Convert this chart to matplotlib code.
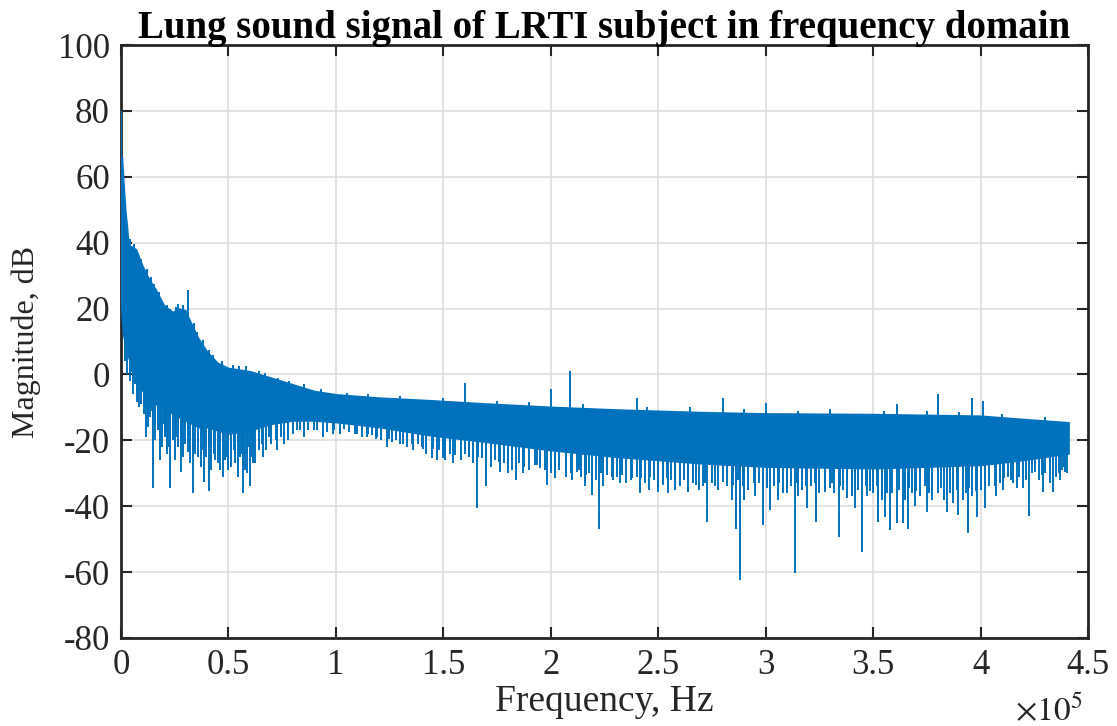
import numpy as np
import matplotlib
matplotlib.use("Agg")
import matplotlib.pyplot as plt

# ---------------- data (frequency in units of 1e5 Hz, magnitude in dB) ----------------
band_freq = [0.0, 0.005, 0.01, 0.02, 0.028, 0.035, 0.045, 0.07, 0.10, 0.13, 0.16, 0.20, 0.24,
             0.27, 0.30, 0.33, 0.36, 0.40, 0.45, 0.50, 0.60, 0.70, 0.80, 0.90, 1.00, 1.20,
             1.44, 1.70, 2.00, 2.30, 2.70, 3.00, 3.50, 4.00, 4.20, 4.41]
band_upper = [62, 66, 60, 50, 45, 39, 39, 38, 33, 29, 26, 21, 19,
              20, 19.5, 15, 11, 7, 3.5, 2, 1, -1, -3, -5, -6, -7,
              -7.8, -8.8, -9.8, -10.6, -11.4, -11.8, -12, -12.5, -13.5, -14.5]
band_lower = [22, 16, 12, 9, 7, 5, 3, -1, -5, -7, -9, -10, -12,
              -13, -14, -15, -16, -16, -17, -18, -17, -15, -14, -14, -14.5, -16,
              -18.5, -20.5, -23, -25, -27, -28, -28.5, -27.5, -26, -24]

# deeper fringe of dips below the solid band
fringe_freq = [0.02, 0.03, 0.055, 0.065, 0.085, 0.105, 0.125, 0.14, 0.16, 0.17, 0.19, 0.20,
               0.215, 0.24, 0.25, 0.265, 0.29, 0.30, 0.32, 0.345, 0.37, 0.395, 0.42, 0.45,
               0.475, 0.485, 0.51, 0.545, 0.555, 0.575, 0.625, 0.64, 0.675, 0.70, 0.745, 0.76,
               0.80, 0.85, 0.87, 0.94, 0.96, 1.02, 1.06, 1.12, 1.17, 1.21, 1.28, 1.33,
               1.38, 1.42, 1.48, 1.53, 1.58, 1.60, 1.64, 1.68, 1.72, 1.74, 1.78, 1.82,
               1.85, 1.90, 1.95, 2.00, 2.04, 2.07, 2.12, 2.14, 2.18, 2.21, 2.26, 2.31,
               2.35, 2.40, 2.44, 2.48, 2.52, 2.56, 2.60, 2.62, 2.66, 2.69, 2.75, 2.78,
               2.82, 2.92, 2.97, 3.04, 3.08, 3.12, 3.17, 3.21, 3.25, 3.30, 3.32, 3.36,
               3.40, 3.43, 3.50, 3.54, 3.59, 3.65, 3.68, 3.72, 3.80, 3.83, 3.86, 3.93,
               3.96, 4.00, 4.04, 4.09, 4.13, 4.15, 4.21, 4.24, 4.27, 4.30, 4.35, 4.38, 4.40]
fringe_value = [4, 0, -6, -3, -10, -12, -16, -11, -20, -17, -22, -15,
                -24, -20, -26, -22, -25, -21, -27, -24, -28, -25, -29, -27,
                -31, -26, -28, -31, -25, -29, -27, -23, -23, -21, -19, -21,
                -18, -19, -17, -19, -17.5, -18, -17.5, -19, -18.5, -20, -20, -22,
                -21, -24, -23, -24, -26, -24, -27, -25.5, -28, -26, -27, -29,
                -27, -29, -28.5, -30, -29, -31, -29.5, -31, -30, -32, -30.5, -31,
                -33, -31, -33, -32, -33.5, -32, -34, -32, -33, -35, -33, -35,
                -34, -35, -33, -34, -36, -34, -35, -34, -36, -34.5, -36, -35,
                -37, -35, -36, -38, -36, -38, -36, -37, -36, -38, -36, -36,
                -37, -35, -34, -33, -31, -33, -32, -30, -32, -30, -31, -29, -30]

# shallower fringe dips between the deeper ones
fringe2_freq = [0.04, 0.075, 0.095, 0.115, 0.15, 0.18, 0.205, 0.228, 0.255, 0.28, 0.31, 0.333,
                0.358, 0.383, 0.408, 0.435, 0.462, 0.495, 0.525, 0.565, 0.59, 0.61, 0.655, 0.69,
                0.72, 0.775, 0.82, 0.90, 0.99, 1.04, 1.09, 1.15, 1.19, 1.245, 1.30, 1.355,
                1.40, 1.45, 1.505, 1.555, 1.62, 1.66, 1.70, 1.76, 1.80, 1.875, 1.925, 1.975,
                2.02, 2.095, 2.13, 2.165, 2.235, 2.285, 2.33, 2.375, 2.42, 2.46, 2.50, 2.54,
                2.58, 2.64, 2.675, 2.72, 2.765, 2.80, 2.85, 2.87, 2.895, 2.945, 3.005, 3.06,
                3.10, 3.145, 3.19, 3.23, 3.275, 3.31, 3.345, 3.38, 3.415, 3.465, 3.485, 3.52,
                3.565, 3.62, 3.665, 3.70, 3.74, 3.76, 3.815, 3.845, 3.89, 3.945, 3.98, 4.02,
                4.065, 4.11, 4.14, 4.18, 4.225, 4.255, 4.285, 4.325, 4.365, 4.39]
fringe2_value = [-2, -8, -9, -10, -14, -16, -19, -17, -19, -21, -19, -22,
                 -21, -23, -22, -24, -22, -25, -23, -24, -22, -25, -21, -19,
                 -20, -18, -17, -17, -17, -16.5, -18, -18, -19, -19.5, -21, -21,
                 -22, -22.5, -23, -24.5, -25, -25, -26, -26.5, -27.5, -28, -27.5, -29,
                 -28.5, -30, -29, -30.5, -30, -31, -30.5, -32, -31.5, -31, -32.5, -31.5,
                 -33, -32.5, -33.5, -33, -34, -32.5, -33.5, -32, -34, -33, -34.5, -33,
                 -34.5, -33, -34, -33, -34.5, -33, -34, -33.5, -35, -34, -35.5, -34,
                 -36, -35, -34.5, -35.5, -34, -36, -34.5, -36, -35, -34.5, -35.5, -33,
                 -34, -31.5, -32, -31, -31, -29.5, -30.5, -29, -30, -28]

# small bumps along the top edge of the band
upjag_freq = [0.04, 0.06, 0.08, 0.095, 0.12, 0.14, 0.155, 0.175, 0.185, 0.215, 0.23, 0.255,
              0.265, 0.29, 0.305, 0.34, 0.355, 0.38, 0.41, 0.43, 0.47, 0.52, 0.55, 0.58,
              0.64, 0.67, 0.73, 0.78, 0.85, 0.93, 1.05, 1.15, 1.30, 1.50, 1.75, 1.90,
              2.15, 2.45, 2.65, 2.90, 3.15, 3.30, 3.55, 3.75, 3.90, 4.10, 4.30]
upjag_value = [41, 39.5, 37, 35, 32, 29.5, 27.5, 25, 23, 21, 20, 20.5,
               21.5, 21, 19, 15.5, 13, 10.5, 7.5, 6, 4, 3, 2.5, 2.5,
               1, 0.5, -1, -2, -3, -4.5, -5.5, -6, -6.5, -7, -8, -8.5,
               -9, -10, -10, -10.5, -11, -10.5, -11, -11, -11.5, -12, -13]

down_freq = [0.047, 0.074, 0.093, 0.116, 0.135, 0.149, 0.181, 0.205, 0.219, 0.228, 0.279, 0.312,
             0.335, 0.358, 0.386, 0.409, 0.437, 0.461, 0.498, 0.530, 0.568, 0.586, 0.600, 0.614,
             0.661, 0.726, 0.777, 0.833, 0.912, 0.987, 1.098, 1.145, 1.187, 1.238, 1.261, 1.312,
             1.359, 1.405, 1.447, 1.470, 1.498, 1.508, 1.545, 1.620, 1.657, 1.698, 1.764, 1.800,
             1.838, 1.870, 1.936, 1.982, 2.020, 2.100, 2.159, 2.192, 2.224, 2.243, 2.290, 2.320,
             2.380, 2.415, 2.457, 2.500, 2.545, 2.578, 2.638, 2.708, 2.727, 2.843, 2.862, 2.880,
             2.900, 2.950, 2.987, 3.020, 3.057, 3.100, 3.136, 3.150, 3.192, 3.234, 3.276, 3.341,
             3.378, 3.416, 3.448, 3.470, 3.523, 3.555, 3.578, 3.611, 3.639, 3.662, 3.695, 3.751,
             3.774, 3.844, 3.872, 3.895, 3.918, 3.941, 3.983, 4.020, 4.072, 4.104, 4.170, 4.197,
             4.225, 4.290, 4.323, 4.337, 4.370, 4.393]
down_value = [0.8, -8.5, -4.7, -19, -13, -34.5, -26, -18, -22, -34.5, -29.5, -23.5,
              -36, -25, -32.5, -35.5, -26, -29, -29, -27, -36, -30, -34, -27,
              -25, -23, -20, -17, -17, -18, -18, -19, -19.5, -22, -20.5, -21,
              -23, -22.5, -25.5, -26, -25.5, -26, -27, -25, -40.5, -34, -29.6, -30,
              -32, -30, -27.5, -33.5, -31.5, -32, -34, -36.6, -47, -34, -32, -33,
              -31.5, -36, -35, -35.6, -36, -35, -35.6, -34, -44.8, -38, -47, -62.4,
              -38, -37, -45.7, -41, -38, -36, -60.3, -37, -40.5, -44.8, -35.6, -49.3,
              -37.5, -40.5, -54, -37, -44.8, -43.3, -47.2, -45.2, -45, -47, -40, -41.7,
              -38, -41.7, -39, -42.7, -38, -48, -43.3, -40.5, -37, -35, -34.5, -34.5,
              -43, -35.6, -33, -35.7, -32, -29.6]

up_freq = [0.0, 0.31, 1.60, 2.00, 2.09, 2.40, 2.80, 3.00, 3.61, 3.80, 3.96, 4.01]
up_value = [80, 25.5, -2.6, -4.4, 1.0, -7.0, -7.0, -8.7, -9.0, -6.0, -7.0, -8.0]

x_ticks = [0, 0.5, 1, 1.5, 2, 2.5, 3, 3.5, 4, 4.5]
x_tick_labels = ["0", "0.5", "1", "1.5", "2", "2.5", "3", "3.5", "4", "4.5"]
y_ticks = [-80, -60, -40, -20, 0, 20, 40, 60, 80, 100]
y_tick_labels = ["-80", "-60", "-40", "-20", "0", "20", "40", "60", "80", "100"]

# ---------------- style ----------------
plt.rcParams["font.family"] = ["Liberation Serif", "DejaVu Serif"]
plt.rcParams["mathtext.fontset"] = "stix"
plt.rcParams["axes.unicode_minus"] = False

BLUE = "#0072BD"
AX_COLOR = "#262626"

fig = plt.figure(figsize=(11.17, 7.26), dpi=100)
ax = fig.add_axes([121 / 1117, 1 - 638 / 726, (1088 - 121) / 1117, (638 - 45) / 726])

# solid band of the spectrum
ax.fill_between(band_freq, band_lower, band_upper, color=BLUE, lw=1.0, zorder=3)

# fringe dips
f_base = np.interp(fringe_freq, band_freq, band_lower) + 2
ax.vlines(fringe_freq, fringe_value, f_base, color=BLUE, lw=1.4, zorder=3)
f2_base = np.interp(fringe2_freq, band_freq, band_lower) + 2
ax.vlines(fringe2_freq, fringe2_value, f2_base, color=BLUE, lw=1.4, zorder=3)

# jagged top edge
j_base = np.interp(upjag_freq, band_freq, band_upper) - 2
ax.vlines(upjag_freq, j_base, upjag_value, color=BLUE, lw=1.4, zorder=3)

# downward spikes
d_base = np.interp(down_freq, band_freq, band_lower) + 2
ax.vlines(down_freq, down_value, d_base, color=BLUE, lw=1.4, zorder=3)

# upward spikes
u_base = np.interp(up_freq, band_freq, band_upper) - 2
ax.vlines(up_freq, u_base, up_value, color=BLUE, lw=1.4, zorder=3)

ax.set_xlim(0, 4.5)
ax.set_ylim(-80, 100)
ax.set_xticks(x_ticks)
ax.set_xticklabels(x_tick_labels)
ax.set_yticks(y_ticks)
ax.set_yticklabels(y_tick_labels)

ax.grid(True, color="#dedede", lw=1.2, zorder=0)
ax.set_axisbelow(True)
ax.tick_params(direction="in", length=8, width=1.5, color=AX_COLOR,
               top=True, right=True, labelsize=25, pad=8, labelcolor="#262626")
for s in ax.spines.values():
    s.set_linewidth(2.0)
    s.set_color(AX_COLOR)

ax.set_xlabel("Frequency, Hz", fontsize=27, color="#262626", labelpad=2)
ax.set_ylabel("Magnitude, dB", fontsize=23, color="#262626", labelpad=12)
ax.set_title("Lung sound signal of LRTI subject in frequency domain",
             fontsize=28, fontweight="bold", pad=5)

fig.text(1049 / 1117, 1 - 711 / 726, r"$\times10^{5}$", fontsize=24, color="#262626",
         ha="center", va="center")

fig.savefig("out.png", dpi=100)
